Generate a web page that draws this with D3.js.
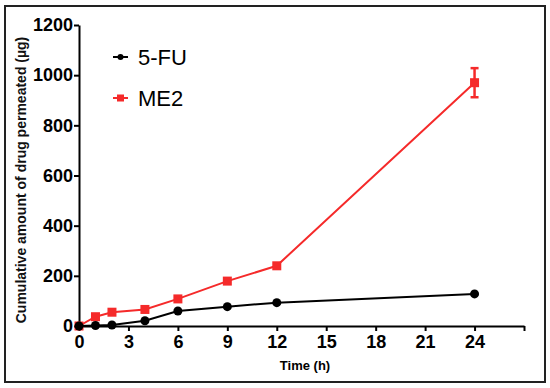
<!DOCTYPE html>
<html>
<head>
<meta charset="utf-8">
<script src="https://cdn.jsdelivr.net/npm/d3@7"></script>
<style>
  body { margin: 0; background: #fff; }
  svg { display: block; font-family: "Liberation Sans", Arial, sans-serif; }
</style>
</head>
<body>
<div id="chart"></div>
<script>
const times = [0, 1, 2, 4, 6, 9, 12, 24];
const fuValues = [0, 2, 4, 21, 60, 77, 93, 128];
const me2Values = [0, 37, 55, 66, 108, 179, 240, 970];
const me2Errors = [0, 0, 0, 0, 0, 0, 0, 58];
const xTicks = [0, 3, 6, 9, 12, 15, 18, 21, 24, 27];
const yTicks = [0, 200, 400, 600, 800, 1000, 1200];

const width = 550, height = 388;
const margin = { top: 25, right: 26, bottom: 62, left: 79 };
const innerW = width - margin.left - margin.right;
const innerH = height - margin.top - margin.bottom;
const red = "#f52a2a";

const svg = d3.select("#chart").append("svg")
  .attr("width", width)
  .attr("height", height);

// outer frame
svg.append("rect")
  .attr("x", 5).attr("y", 6)
  .attr("width", 540).attr("height", 376)
  .attr("fill", "none")
  .attr("stroke", "#222")
  .attr("stroke-width", 2);

const x = d3.scaleLinear().domain([0, 27]).range([0, innerW]);
const y = d3.scaleLinear().domain([0, 1200]).range([innerH, 0]);

const g = svg.append("g")
  .attr("transform", `translate(${margin.left},${margin.top})`);

const xAxis = d3.axisBottom(x)
  .tickValues(xTicks)
  .tickSize(5)
  .tickPadding(4)
  .tickSizeOuter(0)
  .tickFormat((d) => (d === 27 ? "" : d));

const yAxis = d3.axisLeft(y)
  .tickValues(yTicks)
  .tickSize(5)
  .tickPadding(1)
  .tickSizeOuter(0)
  .tickFormat(d3.format("d"));

const xGroup = g.append("g")
  .attr("transform", `translate(0,${innerH})`)
  .call(xAxis);

const yGroup = g.append("g").call(yAxis);

[xGroup, yGroup].forEach((ax) => {
  ax.select(".domain").attr("stroke", "#000").attr("stroke-width", 2);
  ax.selectAll(".tick line").attr("stroke", "#000").attr("stroke-width", 2);
  ax.selectAll("text")
    .attr("fill", "#000")
    .style("font-size", "18px")
    .style("font-weight", "bold")
    .style("font-family", "'Liberation Sans', Arial, sans-serif");
});

// axis titles
svg.append("text")
  .attr("x", 305).attr("y", 370)
  .attr("text-anchor", "middle")
  .style("font-size", "13px")
  .style("font-weight", "bold")
  .text("Time (h)");

svg.append("text")
  .attr("transform", "translate(26,180) rotate(-90)")
  .attr("text-anchor", "middle")
  .style("font-size", "14px")
  .style("font-weight", "bold")
  .attr("fill", "#111")
  .text("Cumulative amount of drug permeated  (\u00b5g)");

const line = d3.line()
  .x((d) => x(d[0]))
  .y((d) => y(d[1]));

const fuData = times.map((t, i) => [t, fuValues[i]]);
const me2Data = times.map((t, i) => [t, me2Values[i], me2Errors[i]]);

// ME2 series
g.append("path")
  .datum(me2Data)
  .attr("fill", "none")
  .attr("stroke", red)
  .attr("stroke-width", 2)
  .attr("d", line);

const errs = g.selectAll(".err")
  .data(me2Data.filter((d) => d[2] > 0))
  .join("g")
  .attr("stroke", red)
  .attr("stroke-width", 2.5);

errs.append("line")
  .attr("x1", (d) => x(d[0])).attr("x2", (d) => x(d[0]))
  .attr("y1", (d) => y(d[1] - d[2])).attr("y2", (d) => y(d[1] + d[2]));
errs.append("line")
  .attr("x1", (d) => x(d[0]) - 4).attr("x2", (d) => x(d[0]) + 4)
  .attr("y1", (d) => y(d[1] + d[2])).attr("y2", (d) => y(d[1] + d[2]));
errs.append("line")
  .attr("x1", (d) => x(d[0]) - 4).attr("x2", (d) => x(d[0]) + 4)
  .attr("y1", (d) => y(d[1] - d[2])).attr("y2", (d) => y(d[1] - d[2]));

g.selectAll(".sq")
  .data(me2Data)
  .join("rect")
  .attr("x", (d) => x(d[0]) - 4.5)
  .attr("y", (d) => y(d[1]) - 4.5)
  .attr("width", 9)
  .attr("height", 9)
  .attr("fill", red);

// 5-FU series
g.append("path")
  .datum(fuData)
  .attr("fill", "none")
  .attr("stroke", "#000")
  .attr("stroke-width", 2)
  .attr("d", line);

g.selectAll(".dot")
  .data(fuData)
  .join("circle")
  .attr("cx", (d) => x(d[0]))
  .attr("cy", (d) => y(d[1]))
  .attr("r", 4.5)
  .attr("fill", "#000");

// legend
const legend = svg.append("g");
const items = [
  { name: "5-FU", color: "#000", shape: "circle", y: 57 },
  { name: "ME2", color: red, shape: "square", y: 98 },
];
items.forEach((it) => {
  legend.append("line")
    .attr("x1", 113).attr("x2", 128)
    .attr("y1", it.y).attr("y2", it.y)
    .attr("stroke", it.color).attr("stroke-width", 2);
  if (it.shape === "circle") {
    legend.append("circle")
      .attr("cx", 120.5).attr("cy", it.y).attr("r", 3)
      .attr("fill", it.color);
  } else {
    legend.append("rect")
      .attr("x", 117).attr("y", it.y - 3.5)
      .attr("width", 7).attr("height", 7)
      .attr("fill", it.color);
  }
  legend.append("text")
    .attr("x", 138).attr("y", it.y + 7.5)
    .style("font-size", "22px")
    .attr("fill", "#000")
    .text(it.name);
});
</script>
</body>
</html>
